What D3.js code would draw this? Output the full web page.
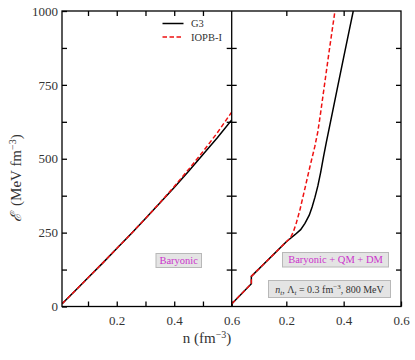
<!DOCTYPE html>
<html>
<head>
<meta charset="utf-8">
<script src="https://cdn.jsdelivr.net/npm/d3@7"></script>
<style>
  body { margin: 0; background: #fff; }
</style>
</head>
<body>
<div id="chart"></div>
<script>
/* ---------- data ---------- */
// left panel: baryonic matter only
const nBar = [0.01, 0.05, 0.1, 0.15, 0.2, 0.25, 0.3, 0.35, 0.4, 0.45, 0.5, 0.55, 0.6];
const eBarG3 = [9.5, 48, 97, 146, 196, 246, 298, 350, 403, 458, 514, 571, 631];
const eBarIOPB = [9.5, 48, 97, 146, 196, 246, 298, 351, 406, 464, 524, 588, 658];

// right panel: baryonic + QM + DM
const nMixG3 = [0.01, 0.078, 0.078, 0.2, 0.215, 0.23, 0.25, 0.265, 0.28, 0.29, 0.3, 0.31, 0.32, 0.33, 0.34, 0.36, 0.38, 0.4, 0.42, 0.4335];
const eMixG3 = [9.5, 77, 102, 219, 231, 243, 260, 281, 309, 337, 370, 408, 455, 508, 558, 653, 748, 843, 937, 1000];
const nMixIOPB = [0.01, 0.078, 0.078, 0.2, 0.215, 0.225, 0.235, 0.2475, 0.265, 0.2823, 0.2993, 0.31, 0.32, 0.33, 0.34, 0.35, 0.36, 0.3696];
const eMixIOPB = [9.5, 77, 102, 219, 233, 254, 283, 327, 400, 473, 541, 592, 658, 728, 798, 868, 935, 1000];

const seriesNames = ["G3", "IOPB-I"];
const xTicksLeft = [0.1, 0.2, 0.3, 0.4, 0.5];
const xTicksRight = [0.2, 0.4];
const xLabelTicks = [0.2, 0.4, 0.6];
const yTicks = [0, 125, 250, 375, 500, 625, 750, 875, 1000];
const yLabelTicks = [0, 250, 500, 750, 1000];

/* ---------- layout ---------- */
const W = 415, H = 360;
const yTop = 11, yBottom = 306.5;
const xl0 = 62, xMid = 231.7, xr1 = 401;
const FONT = '"Liberation Serif", "DejaVu Serif", serif';

const svg = d3.select("#chart").append("svg")
  .attr("width", W).attr("height", H)
  .style("font-family", FONT);

const y = d3.scaleLinear().domain([0, 1000]).range([yBottom, yTop]);
const xL = d3.scaleLinear().domain([0.0095, 0.6]).range([xl0, xMid]);
const xR = d3.scaleLinear().domain([0.0095, 0.6]).range([xMid, xr1]);

const tickFmt = d => xLabelTicks.some(v => Math.abs(v - d) < 1e-9) ? d3.format(".1f")(d) : "";

function styleAxis(g) {
  g.attr("font-family", null);
  g.select(".domain").remove();
  g.selectAll(".tick line").attr("stroke", "#000").attr("stroke-width", 1.3);
  g.selectAll(".tick text").attr("fill", "#333")
    .style("font-family", FONT).style("font-size", "13px");
}

/* ---------- axes ---------- */
// bottom
svg.append("g").attr("transform", `translate(0,${yBottom})`)
  .call(d3.axisBottom(xL).tickValues(xTicksLeft.concat([0.6])).tickSize(-5).tickPadding(9).tickFormat(tickFmt))
  .call(styleAxis);
svg.append("g").attr("transform", `translate(0,${yBottom})`)
  .call(d3.axisBottom(xR).tickValues(xTicksRight.concat([0.6])).tickSize(-5).tickPadding(9).tickFormat(tickFmt))
  .call(styleAxis);
// top
svg.append("g").attr("transform", `translate(0,${yTop})`)
  .call(d3.axisTop(xL).tickValues(xTicksLeft).tickSize(-5).tickFormat(""))
  .call(styleAxis);
svg.append("g").attr("transform", `translate(0,${yTop})`)
  .call(d3.axisTop(xR).tickValues(xTicksRight).tickSize(-5).tickFormat(""))
  .call(styleAxis);
// left
svg.append("g").attr("transform", `translate(${xl0},0)`)
  .call(d3.axisLeft(y).tickValues(yTicks).tickSize(-5).tickPadding(4)
    .tickFormat(d => yLabelTicks.includes(d) ? d : ""))
  .call(styleAxis);
// divider, ticks on both sides
svg.append("g").attr("transform", `translate(${xMid},0)`)
  .call(d3.axisLeft(y).tickValues(yTicks.slice(1, -1)).tickSize(5).tickFormat(""))
  .call(styleAxis);
svg.append("g").attr("transform", `translate(${xMid},0)`)
  .call(d3.axisRight(y).tickValues(yTicks.slice(1, -1)).tickSize(5).tickFormat(""))
  .call(styleAxis);
// right
svg.append("g").attr("transform", `translate(${xr1},0)`)
  .call(d3.axisRight(y).tickValues(yTicks.slice(1, -1)).tickSize(-5).tickFormat(""))
  .call(styleAxis);

/* ---------- curves ---------- */
svg.append("clipPath").attr("id", "clipL").append("rect")
  .attr("x", xl0).attr("y", yTop).attr("width", xMid - xl0).attr("height", yBottom - yTop);
svg.append("clipPath").attr("id", "clipR").append("rect")
  .attr("x", xMid).attr("y", yTop).attr("width", xr1 - xMid).attr("height", yBottom - yTop);

function drawCurve(xs, ns, es, color, dashed, clip) {
  const pts = ns.map((n, i) => [n, es[i]]);
  const line = d3.line().x(d => xs(d[0])).y(d => y(d[1]));
  svg.append("path")
    .attr("d", line(pts))
    .attr("clip-path", `url(#${clip})`)
    .attr("fill", "none")
    .attr("stroke", color)
    .attr("stroke-width", 1.5)
    .attr("stroke-dasharray", dashed ? "4.5,2.5" : null);
}

drawCurve(xL, nBar, eBarG3, "#000", false, "clipL");
drawCurve(xL, nBar, eBarIOPB, "#ee1111", true, "clipL");
drawCurve(xR, nMixG3, eMixG3, "#000", false, "clipR");
drawCurve(xR, nMixIOPB, eMixIOPB, "#ee1111", true, "clipR");

/* ---------- frame ---------- */
svg.append("rect").attr("x", xl0).attr("y", yTop)
  .attr("width", xr1 - xl0).attr("height", yBottom - yTop)
  .attr("fill", "none").attr("stroke", "#000").attr("stroke-width", 1.3);
svg.append("line").attr("x1", xMid).attr("x2", xMid).attr("y1", yTop).attr("y2", yBottom)
  .attr("stroke", "#000").attr("stroke-width", 1.3);

/* ---------- legend ---------- */
const legend = svg.append("g");
seriesNames.forEach((name, i) => {
  const ly = 23.5 + i * 13.5;
  legend.append("line")
    .attr("x1", 162.5).attr("x2", 183.5).attr("y1", ly).attr("y2", ly)
    .attr("stroke", i === 0 ? "#000" : "#ee1111")
    .attr("stroke-width", 1.5)
    .attr("stroke-dasharray", i === 0 ? null : "4.5,2.5");
  legend.append("text")
    .attr("x", 191).attr("y", ly + 3.5)
    .attr("fill", "#333").style("font-size", "10.5px")
    .text(name);
});

/* ---------- annotation boxes ---------- */
function box(x0, y0, w, h) {
  svg.append("rect").attr("x", x0).attr("y", y0).attr("width", w).attr("height", h)
    .attr("fill", "#e4e4e4").attr("stroke", "#b8b8b8").attr("stroke-width", 1);
}
box(156, 253.5, 45.5, 14);
svg.append("text").attr("x", 178.7).attr("y", 264).attr("text-anchor", "middle")
  .attr("fill", "#cc33cc").style("font-size", "10.5px").text("Baryonic");

box(282.5, 252.5, 106, 14.5);
svg.append("text").attr("x", 335.5).attr("y", 263.3).attr("text-anchor", "middle")
  .attr("fill", "#cc33cc").style("font-size", "10.5px").text("Baryonic + QM + DM");

box(268.5, 280.5, 122, 17);
const nt = svg.append("text").attr("x", 329.5).attr("y", 292.5).attr("text-anchor", "middle")
  .attr("fill", "#333").style("font-size", "10px");
nt.append("tspan").style("font-style", "italic").text("n");
nt.append("tspan").attr("baseline-shift", "-25%").style("font-size", "7px").style("font-style", "italic").text("t");
nt.append("tspan").text(", Λ");
nt.append("tspan").attr("baseline-shift", "-25%").style("font-size", "7px").style("font-style", "italic").text("t");
nt.append("tspan").text(" = 0.3 fm");
nt.append("tspan").attr("baseline-shift", "super").style("font-size", "7px").text("−3");
nt.append("tspan").text(", 800 MeV");

/* ---------- axis titles ---------- */
const xt = svg.append("text").attr("x", 207).attr("y", 343).attr("text-anchor", "middle")
  .attr("fill", "#333").style("font-size", "15px");
xt.append("tspan").text("n (fm");
xt.append("tspan").attr("baseline-shift", "super").style("font-size", "10px").text("−3");
xt.append("tspan").text(")");

const yt = svg.append("text")
  .attr("transform", "translate(21,178) rotate(-90)")
  .attr("text-anchor", "middle")
  .attr("fill", "#333").style("font-size", "15px");
yt.append("tspan").style("font-style", "italic").text("ℰ");
yt.append("tspan").attr("dx", 3).text(" (MeV fm");
yt.append("tspan").attr("baseline-shift", "super").style("font-size", "10px").text("−3");
yt.append("tspan").text(")");
</script>
</body>
</html>
